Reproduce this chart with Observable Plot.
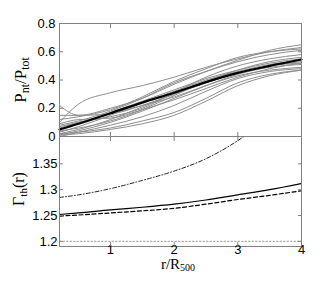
<!DOCTYPE html>
<html><head><meta charset="utf-8">
<script src="https://cdn.jsdelivr.net/npm/d3@7"></script>
<script src="https://cdn.jsdelivr.net/npm/@observablehq/plot@0.6"></script>
<style>
body{margin:0;background:#fff}
#c{position:relative;width:327px;height:286px;overflow:hidden}
#c svg{position:absolute;left:0;overflow:visible}
</style>
</head><body><div id="c"></div>
<script>
// radius grid r/R500
const r = [0.2, 0.5, 1, 1.5, 2, 2.5, 3, 3.5, 4];
// individual clusters Pnt/Ptot
const cluster01 = [0.10, 0.23, 0.31, 0.36, 0.42, 0.49, 0.55, 0.60, 0.63];
const cluster02 = [0.22, 0.15, 0.16, 0.22, 0.30, 0.38, 0.45, 0.50, 0.53];
const cluster03 = [0.15, 0.15, 0.20, 0.27, 0.37, 0.46, 0.54, 0.61, 0.65];
const cluster04 = [0.12, 0.14, 0.19, 0.28, 0.39, 0.48, 0.56, 0.60, 0.62];
const cluster05 = [0.08, 0.11, 0.18, 0.27, 0.38, 0.46, 0.53, 0.58, 0.61];
const cluster06 = [0.05, 0.09, 0.17, 0.25, 0.33, 0.41, 0.47, 0.52, 0.55];
const cluster07 = [0.03, 0.07, 0.15, 0.24, 0.32, 0.40, 0.46, 0.51, 0.54];
const cluster08 = [0.02, 0.05, 0.12, 0.21, 0.30, 0.38, 0.45, 0.50, 0.52];
const cluster09 = [0.01, 0.04, 0.10, 0.18, 0.27, 0.36, 0.44, 0.49, 0.51];
const cluster10 = [0.00, 0.03, 0.08, 0.14, 0.22, 0.32, 0.41, 0.46, 0.48];
const cluster11 = [0.02, 0.03, 0.06, 0.11, 0.17, 0.27, 0.38, 0.44, 0.47];
const cluster12 = [0.06, 0.10, 0.16, 0.22, 0.28, 0.36, 0.43, 0.47, 0.49];
const cluster13 = [0.09, 0.12, 0.13, 0.19, 0.26, 0.34, 0.42, 0.48, 0.52];
const cluster14 = [0.04, 0.06, 0.11, 0.19, 0.29, 0.39, 0.47, 0.53, 0.56];
const cluster15 = [0.01, 0.02, 0.05, 0.09, 0.15, 0.25, 0.36, 0.43, 0.47];
const cluster16 = [0.07, 0.10, 0.14, 0.20, 0.31, 0.42, 0.50, 0.55, 0.58];
const clusters = [cluster01, cluster02, cluster03, cluster04, cluster05, cluster06, cluster07, cluster08,
  cluster09, cluster10, cluster11, cluster12, cluster13, cluster14, cluster15, cluster16];
// mean fit
const meanFit = [0.05, 0.09, 0.165, 0.24, 0.31, 0.385, 0.45, 0.50, 0.545];

// Gamma_th(r)
const gammaSolid  = [1.252, 1.255, 1.261, 1.266, 1.272, 1.280, 1.290, 1.300, 1.312];
const gammaDashed = [1.249, 1.251, 1.255, 1.259, 1.264, 1.272, 1.281, 1.289, 1.298];
const rDashDot = [0.2, 0.5, 1, 1.5, 2, 2.5, 3, 3.5];
const gammaDashDot = [1.285, 1.290, 1.302, 1.318, 1.336, 1.360, 1.395, 1.44];
const gammaConst = [1.2, 1.2];
const rConst = [0.2, 4];

// ticks
const xTicks = [1, 2, 3, 4];
const yTopTicks = [0, 0.2, 0.4, 0.6, 0.8];
const yBotTicks = [1.2, 1.25, 1.3, 1.35];

const greyData = clusters.flatMap((vals, i) => vals.map((v, j) => ({id: i, r: r[j], v})));
const meanData = meanFit.map((v, j) => ({r: r[j], v}));
const toPts = (xs, ys) => ys.map((v, j) => ({r: xs[j], v}));

const frameColor = "#808080";
const W = 327, ML = 59, MR = 26;
const font = "'Liberation Sans', Arial, sans-serif";

function tickAxes(yTicks) {
  const o = {tickSize: -4, tickFormat: () => "", stroke: frameColor, label: null};
  return [
    Plot.axisY(yTicks, {anchor: "left", ...o}),
    Plot.axisY(yTicks, {anchor: "right", ...o}),
    Plot.axisX(xTicks, {anchor: "bottom", ...o}),
    Plot.axisX(xTicks, {anchor: "top", ...o})
  ];
}

const topPlot = Plot.plot({
  width: W, height: 136, marginLeft: ML, marginRight: MR, marginTop: 23, marginBottom: 0,
  x: {domain: [0.2, 4], label: null},
  y: {domain: [0, 0.8], label: null},
  style: {fontFamily: font, fontSize: "13px", color: "black", background: "transparent"},
  marks: [
    Plot.line(greyData, {x: "r", y: "v", z: "id", stroke: "#8e8e8e", strokeWidth: 1, curve: "monotone-x"}),
    Plot.line(meanData, {x: "r", y: "v", stroke: "black", strokeWidth: 2.2, curve: "monotone-x"}),
    Plot.frame({stroke: frameColor}),
    Plot.axisY(yTopTicks, {anchor: "left", tickSize: 0, tickPadding: 4, tickFormat: d => String(d), label: null}),
    ...tickAxes(yTopTicks)
  ]
});

const botPlot = Plot.plot({
  width: W, height: 150, marginLeft: ML, marginRight: MR, marginTop: 0, marginBottom: 40,
  x: {domain: [0.2, 4], label: null},
  y: {domain: [1.19, 1.403], label: null},
  clip: true,
  style: {fontFamily: font, fontSize: "13px", color: "black", background: "transparent"},
  marks: [
    Plot.line(toPts(rConst, gammaConst), {x: "r", y: "v", stroke: "#9a9a9a", strokeWidth: 1, strokeDasharray: "1.5,2"}),
    Plot.line(toPts(r, gammaSolid), {x: "r", y: "v", stroke: "black", strokeWidth: 1.2, curve: "monotone-x"}),
    Plot.line(toPts(r, gammaDashed), {x: "r", y: "v", stroke: "black", strokeWidth: 1.2, strokeDasharray: "4,2.5", curve: "monotone-x"}),
    Plot.line(toPts(rDashDot, gammaDashDot), {x: "r", y: "v", stroke: "#222", strokeWidth: 1, strokeDasharray: "4,2,1,2", curve: "monotone-x"}),
    Plot.frame({stroke: frameColor}),
    Plot.axisY(yBotTicks, {anchor: "left", tickSize: 0, tickPadding: 2, tickFormat: d => String(d), label: null}),
    Plot.axisX(xTicks, {anchor: "bottom", tickSize: 0, tickPadding: -2, tickFormat: d => String(d), label: null}),
    ...tickAxes(yBotTicks)
  ]
});

const c = document.getElementById("c");
topPlot.style.top = "0px";
botPlot.style.top = "136px";
c.appendChild(topPlot);
c.appendChild(botPlot);

const serif = "'Liberation Serif', 'DejaVu Serif', serif";
// P_nt / P_tot
(function(){
  const t = d3.select(topPlot).append("text")
    .attr("transform", "translate(26,80) rotate(-90)")
    .attr("text-anchor", "middle").attr("font-family", serif).attr("font-size", 17).attr("fill", "black");
  t.append("tspan").text("P");
  t.append("tspan").text("nt").attr("font-size", 12).attr("dy", 3);
  t.append("tspan").text("/P").attr("dy", -3);
  t.append("tspan").text("tot").attr("font-size", 12).attr("dy", 3);
})();
// Gamma_th(r)
(function(){
  const t = d3.select(botPlot).append("text")
    .attr("transform", "translate(24,53) rotate(-90)")
    .attr("text-anchor", "middle").attr("font-family", serif).attr("font-size", 16).attr("fill", "black");
  t.append("tspan").text("Γ");
  t.append("tspan").text("th").attr("font-size", 11).attr("dy", 3);
  t.append("tspan").text("(r)").attr("dy", -3);
})();
// r/R_500
(function(){
  const t = d3.select(botPlot).append("text")
    .attr("transform", "translate(178,133)")
    .attr("text-anchor", "middle").attr("font-family", serif).attr("font-size", 15).attr("fill", "black");
  t.append("tspan").text("r/R");
  t.append("tspan").text("500").attr("font-size", 10).attr("dy", 2);
})();
</script>
</body></html>
